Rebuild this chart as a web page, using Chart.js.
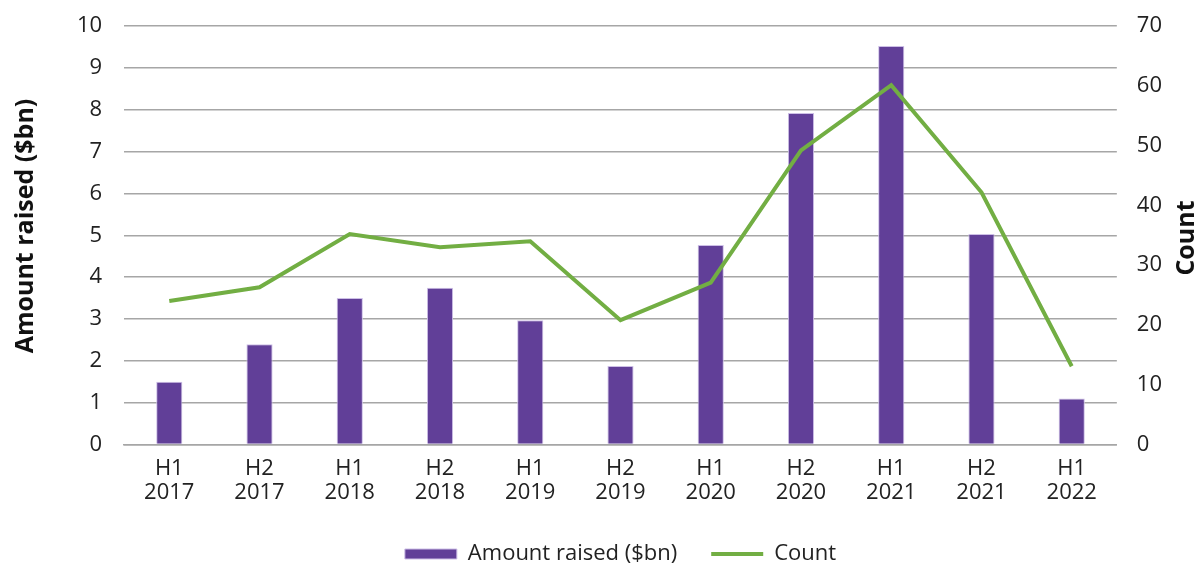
<!DOCTYPE html>
<html>
<head>
<meta charset="utf-8">
<script src="https://cdn.jsdelivr.net/npm/chart.js@4"></script>
<style>
  html, body { margin: 0; padding: 0; background: #ffffff; }
  #wrap { width: 1199px; height: 565px; }
</style>
</head>
<body>
<div id="wrap"><canvas id="c" width="1199" height="565"></canvas></div>
<script>
const categories = [['H1','2017'],['H2','2017'],['H1','2018'],['H2','2018'],['H1','2019'],['H2','2019'],['H1','2020'],['H2','2020'],['H1','2021'],['H2','2021'],['H1','2022']];
const amountRaised = [1.5, 2.4, 3.5, 3.75, 2.97, 1.88, 4.77, 7.92, 9.52, 5.03, 1.1];
const dealCount = [24, 26.3, 35.2, 33.0, 34.0, 20.8, 27.1, 49.2, 60.1, 42.2, 13.1];
const leftTitle = 'Amount raised ($bn)';
const rightTitle = 'Count';

const FONT = '"Open Sans"';
const TXT = '#222222';

const axisTitlesPlugin = {
  id: 'axisTitles',
  afterDraw(chart) {
    const ctx = chart.ctx;
    ctx.save();
    ctx.font = 'bold 25px ' + FONT;
    ctx.fillStyle = '#111111';
    ctx.textAlign = 'center';
    ctx.textBaseline = 'middle';
    ctx.save();
    ctx.translate(26, 226);
    ctx.rotate(-Math.PI / 2);
    ctx.fillText(leftTitle, 0, 0);
    ctx.restore();
    ctx.save();
    ctx.translate(1187, 238);
    ctx.rotate(-Math.PI / 2);
    ctx.fillText(rightTitle, 0, 0);
    ctx.restore();
    ctx.restore();
  }
};

new Chart(document.getElementById('c'), {
  data: {
    labels: categories,
    datasets: [
      {
        type: 'bar',
        label: 'Amount raised ($bn)',
        data: amountRaised,
        yAxisID: 'y',
        backgroundColor: '#613f98',
        borderColor: '#cdbfe6',
        borderWidth: 1,
        categoryPercentage: 1,
        barPercentage: 0.29,
        order: 1,
        pointStyle: 'rect'
      },
      {
        type: 'line',
        label: 'Count',
        data: dealCount,
        yAxisID: 'y1',
        borderColor: '#72ae43',
        backgroundColor: '#72ae43',
        borderWidth: 4,
        pointRadius: 0,
        tension: 0,
        order: 0,
        pointStyle: 'line'
      }
    ]
  },
  plugins: [axisTitlesPlugin],
  options: {
    responsive: false,
    animation: false,
    layout: { padding: { left: 67, right: 25, top: 26, bottom: -10 } },
    plugins: {
      legend: {
        position: 'bottom',
        fullSize: false,
        labels: {
          usePointStyle: true,
          pointStyleWidth: 52,
          boxHeight: 10,
          padding: 34,
          color: TXT,
          font: { family: FONT, size: 22 },
          sort: (a, b) => a.datasetIndex - b.datasetIndex
        }
      },
      tooltip: { enabled: false }
    },
    scales: {
      x: {
        grid: { display: false },
        border: { display: true, color: '#a6a6a6', width: 1.5 },
        ticks: { color: TXT, font: { family: FONT, size: 22, lineHeight: 1.1 }, padding: 4, maxRotation: 0 }
      },
      y: {
        position: 'left',
        min: 0, max: 10,
        ticks: { stepSize: 1, color: TXT, font: { family: FONT, size: 22 }, padding: 10 },
        grid: { color: '#a6a6a6', lineWidth: 1.5, drawTicks: true, tickLength: 12, tickColor: 'rgba(0,0,0,0)' },
        border: { display: false }
      },
      y1: {
        position: 'right',
        min: 0, max: 70,
        ticks: { stepSize: 10, color: TXT, font: { family: FONT, size: 22 }, padding: 12 },
        grid: { display: true, drawOnChartArea: false, drawTicks: true, tickLength: 8, tickColor: 'rgba(0,0,0,0)' },
        border: { display: false }
      }
    }
  }
});
</script>
</body>
</html>
